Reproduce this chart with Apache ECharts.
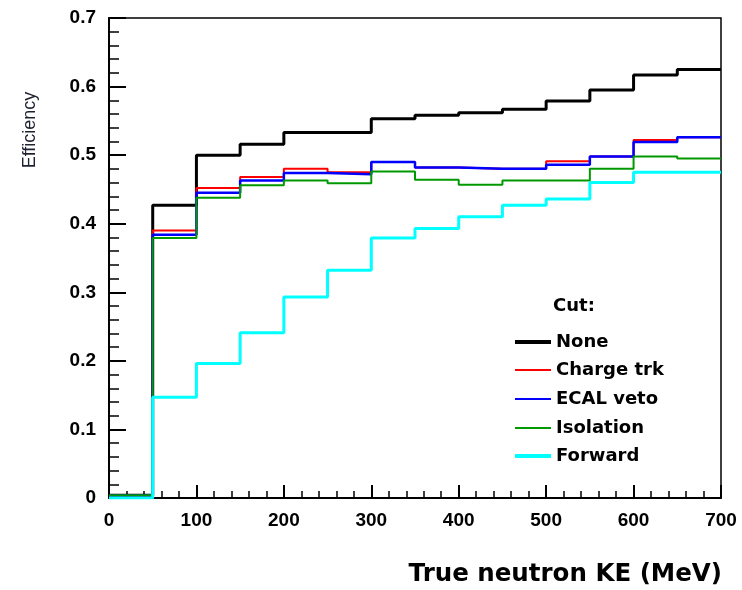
<!DOCTYPE html>
<html>
<head>
<meta charset="utf-8">
<script src="https://cdn.jsdelivr.net/npm/echarts@6/dist/echarts.min.js"></script>
<style>
  html, body { margin: 0; padding: 0; background: #fff; }
  #chart { width: 742px; height: 590px; }
</style>
</head>
<body>
<div id="chart"></div>
<script>
// Bin edges (MeV) of the kinetic-energy histogram, 50 MeV wide
const binEdges = [0, 50, 100, 150, 200, 250, 300, 350, 400, 450, 500, 550, 600, 650, 700];

// Selection efficiency per bin after each successive cut
const effNone      = [0.004, 0.427, 0.500, 0.516, 0.533, 0.533, 0.553, 0.558, 0.562, 0.567, 0.579, 0.595, 0.617, 0.625];
const effChargeTrk = [0.004, 0.390, 0.452, 0.468, 0.480, 0.475, 0.490, 0.482, 0.480, 0.480, 0.491, 0.498, 0.522, 0.526];
const effEcalVeto  = [0.004, 0.384, 0.445, 0.463, 0.474, 0.472, 0.490, 0.482, 0.480, 0.480, 0.486, 0.498, 0.519, 0.526];
const effIsolation = [0.004, 0.379, 0.438, 0.456, 0.463, 0.459, 0.476, 0.464, 0.457, 0.463, 0.463, 0.480, 0.498, 0.495];
const effForward   = [0.000, 0.147, 0.196, 0.241, 0.293, 0.332, 0.379, 0.393, 0.410, 0.427, 0.436, 0.460, 0.475, 0.475];

const seriesNames = ['None', 'Charge trk', 'ECAL veto', 'Isolation', 'Forward'];
const yTicks = [0, 0.1, 0.2, 0.3, 0.4, 0.5, 0.6, 0.7];
const xTicks = [0, 100, 200, 300, 400, 500, 600, 700];

// Turn per-bin contents into step-line vertices: each bin starts at its low edge,
// and the last bin's value is repeated at the upper edge of the range.
function histPoints(values) {
  const pts = values.map((v, i) => [binEdges[i], v]);
  pts.push([binEdges[binEdges.length - 1], values[values.length - 1]]);
  return pts;
}

const styles = [
  { color: '#000000', width: 3,   thick: true  },
  { color: '#ff0000', width: 2,   thick: false },
  { color: '#0000ff', width: 2.5, thick: false },
  { color: '#009900', width: 2,   thick: false },
  { color: '#00ffff', width: 3,   thick: true  }
];
const allValues = [effNone, effChargeTrk, effEcalVeto, effIsolation, effForward];

const series = seriesNames.map((name, i) => ({
  name: name,
  type: 'line',
  step: 'end',
  symbol: 'none',
  color: styles[i].color,
  lineStyle: { color: styles[i].color, width: styles[i].width },
  data: histPoints(allValues[i]),
  animation: false
}));

const legendFont = { fontFamily: 'DejaVu Sans', fontWeight: 'bold', fontSize: 18, color: '#000', lineHeight: 20 };
const legendRows = [337, 365, 394, 423, 451];
const legends = seriesNames.map((name, i) => ({
  data: [name],
  left: 510,
  top: legendRows[i] - 10,
  orient: 'vertical',
  icon: 'rect',
  itemWidth: 36,
  itemHeight: styles[i].thick ? 4 : 2,
  textStyle: legendFont,
  selectedMode: false
}));

const tickFont = { fontFamily: 'Liberation Sans', fontWeight: 'bold', fontSize: 19, color: '#000' };

const chart = echarts.init(document.getElementById('chart'), null, { renderer: 'canvas' });
chart.setOption({
  backgroundColor: '#ffffff',
  animation: false,
  grid: {
    left: 109, right: 21, top: 18, bottom: 92,
    show: true, borderColor: '#000', borderWidth: 1.5, backgroundColor: 'transparent'
  },
  legend: legends,
  xAxis: {
    type: 'value',
    min: xTicks[0],
    max: xTicks[xTicks.length - 1],
    interval: 100,
    axisLine: { show: true, lineStyle: { color: '#000', width: 2 } },
    axisTick: { show: true, inside: true, length: 13, lineStyle: { color: '#000', width: 2 } },
    minorTick: { show: true, splitNumber: 5, length: 7, lineStyle: { color: '#000', width: 1.5 } },
    axisLabel: Object.assign({ margin: 13 }, tickFont),
    splitLine: { show: false }
  },
  yAxis: {
    type: 'value',
    min: yTicks[0],
    max: yTicks[yTicks.length - 1],
    interval: 0.1,
    axisLine: { show: true, lineStyle: { color: '#000', width: 2 } },
    axisTick: { show: true, inside: true, length: 17, lineStyle: { color: '#000', width: 2 } },
    minorTick: { show: true, splitNumber: 5, length: 10, lineStyle: { color: '#000', width: 1.5 } },
    axisLabel: Object.assign({ margin: 13, formatter: v => String(Math.round(v * 10) / 10) }, tickFont),
    splitLine: { show: false }
  },
  graphic: [
    {
      type: 'text',
      left: 553, top: 297,
      style: { text: 'Cut:', font: 'bold 18px "DejaVu Sans"', fill: '#000' }
    },
    {
      type: 'text',
      right: 20, top: 562,
      style: { text: 'True neutron KE (MeV)', font: 'bold 24.5px "DejaVu Sans"', fill: '#000' }
    },
    {
      type: 'text',
      x: 30, y: 130,
      rotation: Math.PI / 2,
      style: { text: 'Efficiency', font: '18px "Liberation Sans"', fill: '#1e2230', align: 'center', verticalAlign: 'middle' }
    }
  ],
  series: series
});
</script>
</body>
</html>
